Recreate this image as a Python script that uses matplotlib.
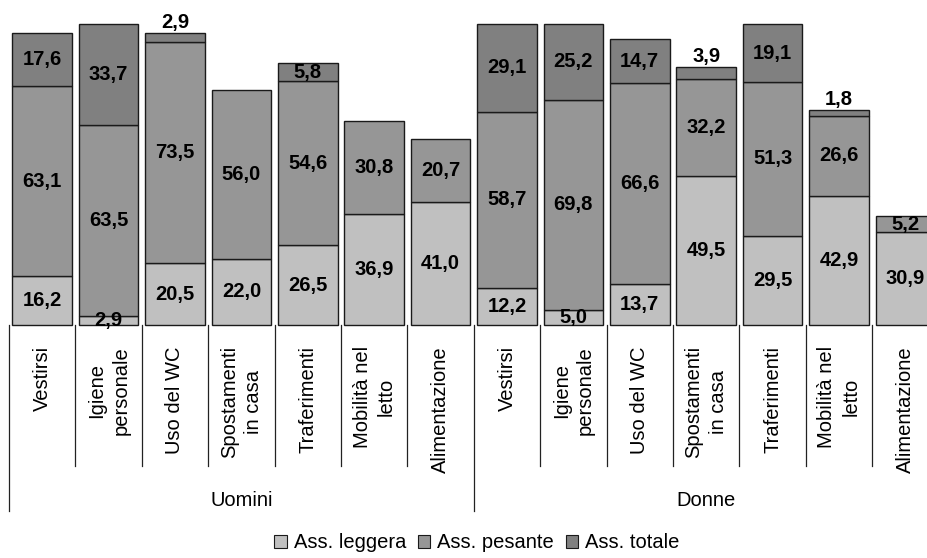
import matplotlib
matplotlib.use("Agg")
import matplotlib.pyplot as plt
import numpy as np
from matplotlib.patches import Patch
from matplotlib.lines import Line2D

plt.rcParams['font.family'] = ['Liberation Sans', 'DejaVu Sans']

groups = ["Uomini", "Donne"]
activities = ["Vestirsi", "Igiene\npersonale", "Uso del WC", "Spostamenti\nin casa",
              "Traferimenti", "Mobilità nel\nletto", "Alimentazione"]
series_names = ["Ass. leggera", "Ass. pesante", "Ass. totale"]

leggera = [16.2, 2.9, 20.5, 22.0, 26.5, 36.9, 41.0,
           12.2, 5.0, 13.7, 49.5, 29.5, 42.9, 30.9]
pesante = [63.1, 63.5, 73.5, 56.0, 54.6, 30.8, 20.7,
           58.7, 69.8, 66.6, 32.2, 51.3, 26.6, 5.2]
totale = [17.6, 33.7, 2.9, 0.0, 5.8, 0.0, 0.0,
          29.1, 25.2, 14.7, 3.9, 19.1, 1.8, 0.0]

colors = ["#C0C0C0", "#969696", "#808080"]

W, H = 927, 558
fig = plt.figure(figsize=(W / 100, H / 100), dpi=100)

x_left_px = 9.0
cell_px = 66.4
n = len(leggera)
ax_w_px = cell_px * n
base_px = 325.0
unit_px = 3.01
ax = fig.add_axes([x_left_px / W, (H - base_px) / H, ax_w_px / W, 100 * unit_px / H])
ax.set_xlim(0, n)
ax.set_ylim(0, 100)
ax.axis("off")

x = np.arange(n) + 0.5
bw = 0.9
fs = 14.5
bottom = np.zeros(n)
all_series = [leggera, pesante, totale]
for si, (vals, col) in enumerate(zip(all_series, colors)):
    vals = np.array(vals)
    for i in range(n):
        v = vals[i]
        if v <= 0:
            continue
        ax.bar(x[i], v, bottom=bottom[i], width=bw, color=col,
               edgecolor="#1a1a1a", linewidth=1.0, clip_on=False)
        label = f"{v:.1f}".replace(".", ",")
        if si == 2 and v < 5:
            ax.text(x[i], bottom[i] + v + 3.6, label, ha="center", va="center",
                    fontsize=fs, fontweight="bold", clip_on=False)
        else:
            ax.text(x[i], bottom[i] + v / 2, label, ha="center", va="center",
                    fontsize=fs, fontweight="bold", clip_on=False)
    bottom = bottom + vals

def fx(data_x):
    return (x_left_px + data_x * cell_px) / W

def fy(px):
    return (H - px) / H

for k in range(n + 1):
    long_line = (k % 7 == 0)
    y_end = 511 if long_line else 466
    fig.add_artist(Line2D([fx(k), fx(k)], [fy(base_px), fy(y_end)],
                          color="#222222", linewidth=0.9))

for i in range(n):
    fig.text(fx(i + 0.5), fy(346), activities[i % 7], rotation=90,
             ha="center", va="top", multialignment="center", fontsize=fs,
             linespacing=1.35)

for g, name in enumerate(groups):
    fig.text(fx(g * 7 + 3.5), fy(500), name, ha="center", va="center", fontsize=fs)

handles = [Patch(facecolor=c, edgecolor="#1a1a1a", linewidth=0.8) for c in colors]
fig.legend(handles, series_names, loc="center", bbox_to_anchor=(477 / W, fy(543)),
           ncol=3, frameon=False, fontsize=fs, handlelength=0.6, handleheight=0.6,
           handletextpad=0.35, columnspacing=0.6, borderpad=0)

fig.savefig("out.png", dpi=100)
